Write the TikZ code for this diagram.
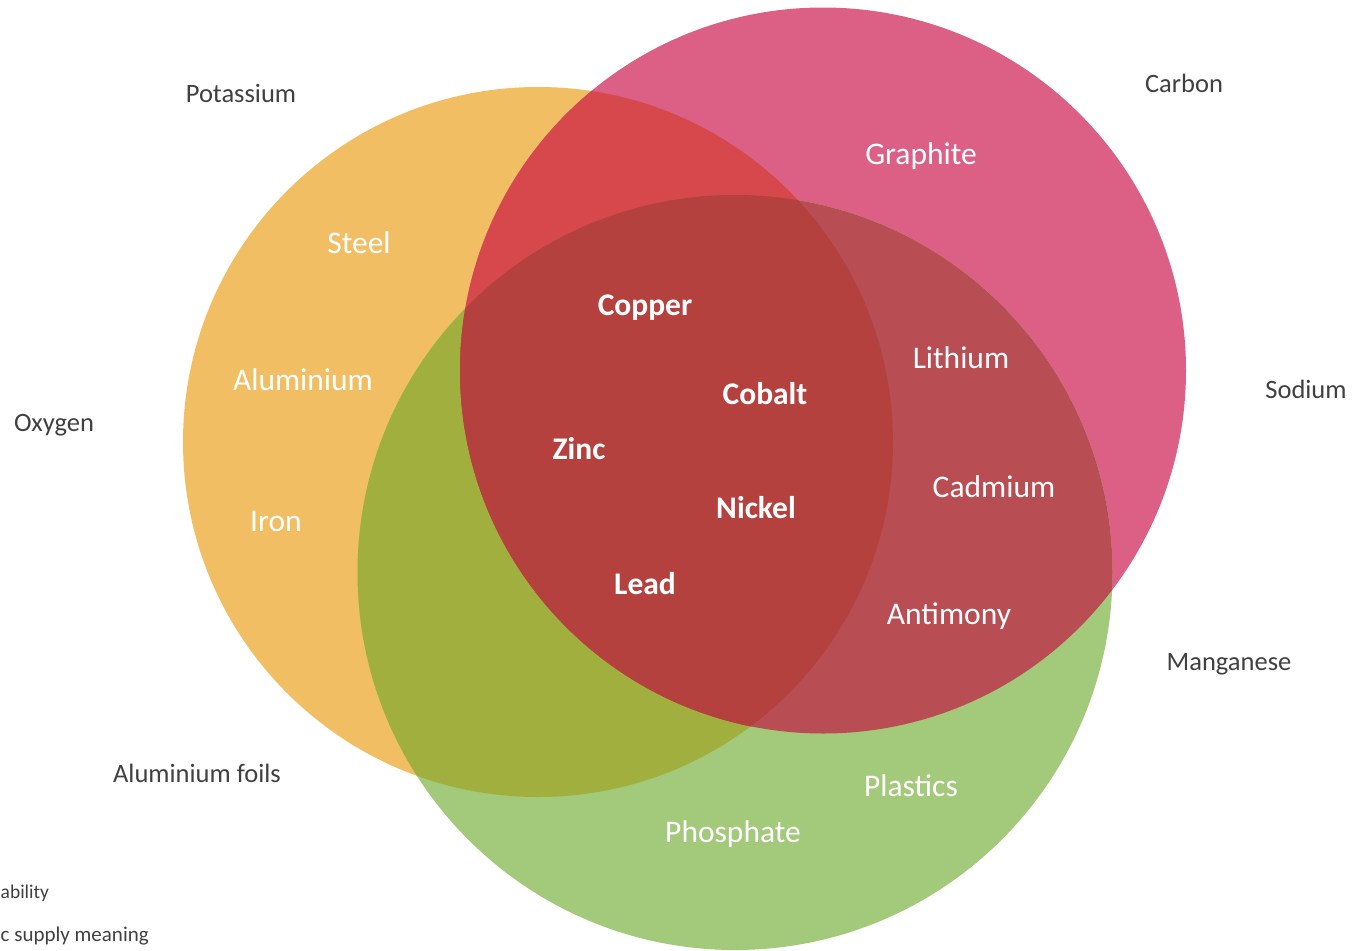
\documentclass[tikz,border=0pt]{standalone}
\usepackage{fontspec}
\setmainfont{Carlito}
\usepackage{tikz}
\usetikzlibrary{positioning}
\definecolor{orangeC}{HTML}{F2BE63}
\definecolor{pinkC}{HTML}{DC5F85}
\definecolor{greenC}{HTML}{A3C97B}
\definecolor{orgreenC}{HTML}{A0AF3E}
\definecolor{orpinkC}{HTML}{D6484C}
\definecolor{pkgreenC}{HTML}{B84D53}
\definecolor{allC}{HTML}{B5413E}
\definecolor{textC}{HTML}{404040}

\tikzset{
outer/.style={inner sep=0pt, anchor=base, text=textC, font=\fontsize{26.5}{30}\selectfont},
edge text/.style={inner sep=0pt, anchor=base west, text=textC},
inner/.style={inner sep=0pt, anchor=base, text=white, font=\fontsize{31.5}{36}\selectfont},
core/.style={inner sep=0pt, anchor=base, text=white, font=\fontsize{31.5}{36}\selectfont\bfseries}
}

\begin{document}
\begin{tikzpicture}[x=1pt,y=-1pt]

\useasboundingbox (0,0) rectangle (1353,951);

\coordinate (cO) at (538,442);
\coordinate (cP) at (823,370.5);
\coordinate (cG) at (735,572.5);

% single sets
\fill[orangeC] (cO) circle [radius=355pt];
\fill[pinkC] (cP) circle [radius=363pt];
\fill[greenC] (cG) circle [radius=377.5pt];

% pairwise overlaps
\begin{scope}
\clip (cO) circle [radius=355pt];
\fill[orgreenC] (cG) circle [radius=377.5pt];
\fill[orpinkC] (cP) circle [radius=363pt];
\end{scope}
\begin{scope}
\clip (cP) circle [radius=363pt];
\fill[pkgreenC] (cG) circle [radius=377.5pt];
\end{scope}

% all three
\begin{scope}
\clip (cO) circle [radius=355pt];
\clip (cP) circle [radius=363pt];
\fill[allC] (cG) circle [radius=377.5pt];
\end{scope}

\foreach \nm/\txt/\x/\y in {potassium/Potassium/241/102.5, carbon/Carbon/1184/92.5,
  sodium/Sodium/1306/398.5, oxygen/Oxygen/54/431, manganese/Manganese/1229/670.5,
  foils/Aluminium foils/197/782.5}
{
\node[outer] (\nm) at (\x,\y) {\txt};
}

\node[edge text, font=\fontsize{19.5}{24}\selectfont] (ability) at (0.5,898) {ability};
\node[edge text, font=\fontsize{21}{25}\selectfont] (supply) at (0.5,941.5) {c supply meaning};

\foreach \nm/\txt/\x/\y in {graphite/Graphite/921/164, steel/Steel/359/253,
  aluminium/Aluminium/303/390, iron/Iron/276/531, lithium/Lithium/961/368,
  cadmium/Cadmium/994/497, antimony/Antimony/949/624, plastics/Plastics/911/796,
  phosphate/Phosphate/733/842}
{
\node[inner] (\nm) at (\x,\y) {\txt};
}

\foreach \nm/\txt/\x/\y in {copper/Copper/645/315, cobalt/Cobalt/765/404,
  zinc/Zinc/579/459, nickel/Nickel/756/518, lead/Lead/645/594}
{
\node[core] (\nm) at (\x,\y) {\txt};
}

\end{tikzpicture}
\end{document}
